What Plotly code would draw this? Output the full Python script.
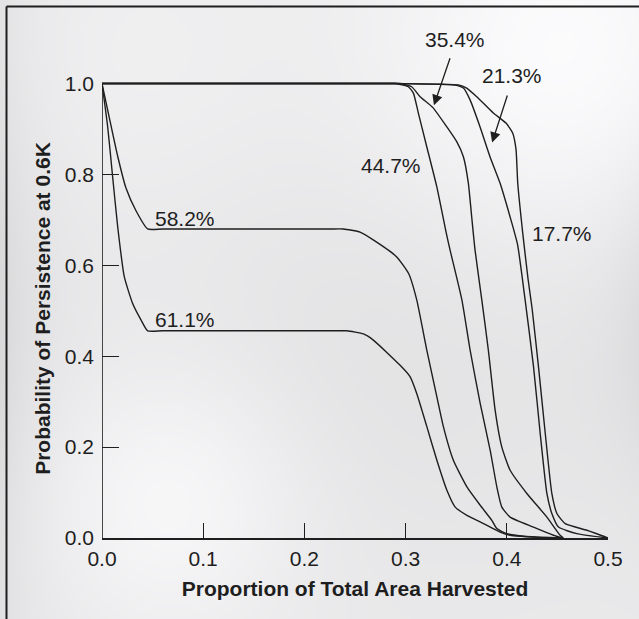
import base64
import struct
import zlib

import numpy as np
import plotly.graph_objects as go

# ---------------- data ----------------
x_582 = [0.0, 0.0072, 0.0155, 0.0237, 0.0336, 0.0451, 0.0600, 0.2250, 0.2385, 0.2550,
         0.2680, 0.2910, 0.3030, 0.3110, 0.3210, 0.3309, 0.3374, 0.3472, 0.3606, 0.3737,
         0.3852, 0.3902, 0.4000, 0.4264, 0.4550]
y_582 = [1.0, 0.925, 0.840, 0.770, 0.720, 0.680, 0.680, 0.680, 0.680, 0.673,
         0.656, 0.619, 0.582, 0.524, 0.413, 0.3106, 0.2445, 0.171, 0.1123, 0.072,
         0.039, 0.0207, 0.0097, 0.002, 0.0]

x_611 = [0.0, 0.0056, 0.0105, 0.0155, 0.0220, 0.0303, 0.0385, 0.0451, 0.0600, 0.2280,
         0.2418, 0.2583, 0.2681, 0.2946, 0.3044, 0.3110, 0.3210, 0.3309, 0.3408, 0.3490,
         0.3606, 0.3770, 0.3934, 0.4033, 0.4527]
y_611 = [1.0, 0.905, 0.795, 0.685, 0.575, 0.516, 0.480, 0.456, 0.456, 0.456,
         0.456, 0.449, 0.4355, 0.380, 0.355, 0.318, 0.245, 0.171, 0.105, 0.068,
         0.050, 0.0317, 0.013, 0.006, 0.0]

x_447 = [0.0, 0.2800, 0.2896, 0.3027, 0.3077, 0.3126, 0.3209, 0.3308, 0.3401, 0.3439,
         0.3556, 0.3638, 0.3737, 0.3836, 0.3902, 0.3951, 0.4033, 0.4264, 0.4462, 0.4545]
y_447 = [1.0, 1.0, 1.0, 0.993, 0.979, 0.935, 0.861, 0.773, 0.672, 0.634,
         0.524, 0.413, 0.296, 0.193, 0.112, 0.068, 0.046, 0.024, 0.006, 0.0]

x_354 = [0.0, 0.2850, 0.2945, 0.3060, 0.3143, 0.3270, 0.3406, 0.3505, 0.3571, 0.3620,
         0.3653, 0.3686, 0.3753, 0.3818, 0.3885, 0.3951, 0.4033, 0.4198, 0.4396, 0.4527,
         0.4560]
y_354 = [1.0, 1.0, 1.0, 0.993, 0.971, 0.947, 0.905, 0.872, 0.839, 0.781,
         0.707, 0.634, 0.524, 0.413, 0.281, 0.200, 0.149, 0.098, 0.046, 0.006,
         0.0]

x_213 = [0.0, 0.2900, 0.3505, 0.3571, 0.3637, 0.3735, 0.3834, 0.3933, 0.4032, 0.4106,
         0.4181, 0.4264, 0.4330, 0.4396, 0.4445, 0.4511, 0.4692, 0.5000]
y_213 = [1.0, 1.0, 0.996, 0.990, 0.964, 0.905, 0.839, 0.781, 0.707, 0.646,
         0.524, 0.377, 0.230, 0.098, 0.054, 0.024, 0.0097, 0.0]

x_177 = [0.0, 0.2900, 0.3520, 0.3604, 0.3703, 0.3867, 0.3992, 0.4058, 0.4091, 0.4108,
         0.4157, 0.4210, 0.4250, 0.4313, 0.4380, 0.4445, 0.4495, 0.4577, 0.4792, 0.5000]
y_177 = [1.0, 1.0, 0.997, 0.990, 0.971, 0.935, 0.913, 0.891, 0.855, 0.781,
         0.672, 0.570, 0.505, 0.377, 0.230, 0.098, 0.054, 0.0317, 0.017, 0.0]

series_x = [x_582, x_611, x_447, x_354, x_213, x_177]
series_y = [y_582, y_611, y_447, y_354, y_213, y_177]

label_text = ["58.2%", "61.1%", "44.7%", "35.4%", "21.3%", "17.7%"]
label_x = [0.082, 0.082, 0.286, 0.349, 0.405, 0.455]
label_y = [0.704, 0.481, 0.819, 1.098, 1.018, 0.670]

arrow_tail_x = [0.3444, 0.4010]
arrow_tail_y = [1.059, 0.977]
arrow_head_x = [0.3280, 0.3855]
arrow_head_y = [0.952, 0.870]

x_ticks = [0.0, 0.1, 0.2, 0.3, 0.4, 0.5]
y_ticks = [0.0, 0.2, 0.4, 0.6, 0.8, 1.0]

x_title = "Proportion of Total Area Harvested"
y_title = "Probability of Persistence at 0.6K"

# ---------------- layout geometry ----------------
W, H = 639, 619
L, R, T, B = 102, 31, 79, 81
PW, PH = W - L - R, H - T - B
X_RANGE = [0, 0.5]
Y_RANGE = [0, 1.01]
INK = "#1e1e1e"
FONT = "Liberation Sans, Arial, Helvetica, sans-serif"


# ---------------- background gradient image ----------------
def png_uri(arr):
    h, w, _ = arr.shape
    raw = b"".join(b"\x00" + arr[i].tobytes() for i in range(h))

    def chunk(tag, data):
        c = struct.pack(">I", len(data)) + tag + data
        return c + struct.pack(">I", zlib.crc32(tag + data) & 0xFFFFFFFF)

    png = (b"\x89PNG\r\n\x1a\n"
           + chunk(b"IHDR", struct.pack(">IIBBBBB", w, h, 8, 2, 0, 0, 0))
           + chunk(b"IDAT", zlib.compress(raw, 9))
           + chunk(b"IEND", b""))
    return "data:image/png;base64," + base64.b64encode(png).decode()


yy, xx = np.mgrid[0:H, 0:W].astype(float)
g = np.full((H, W), 234.0)
g += 18 * np.exp(-((xx - 560) ** 2 + (yy - 60) ** 2) / (2 * 140 ** 2))
g += 14 * np.exp(-((xx - 170) ** 2 + (yy - 500) ** 2) / (2 * 95 ** 2))
g += 6 * np.exp(-((xx - 120) ** 2 + (yy - 60) ** 2) / (2 * 120 ** 2))
g -= 18 * np.exp(-xx / 45) * (0.5 + 0.5 * np.exp(-((yy - 330) / 220) ** 2))
g -= 14 * np.exp(-(W - xx) / 45) * np.exp(-((yy - 320) / 170) ** 2)
g -= 7 * np.exp(-((xx - 400) ** 2 + (yy - 340) ** 2) / (2 * 150 ** 2))
g = np.clip(g, 0, 255)
rgb = np.stack([g, g, g + 1.5], axis=-1).clip(0, 255).astype(np.uint8)
bg_uri = png_uri(rgb)


def data_to_paper_x(v):
    return (v - X_RANGE[0]) / (X_RANGE[1] - X_RANGE[0])


def data_to_paper_y(v):
    return (v - Y_RANGE[0]) / (Y_RANGE[1] - Y_RANGE[0])


def px_to_paper_x(px):
    return (px - L) / PW


def py_to_paper_y(py):
    return 1 - (py - T) / PH


# ---------------- figure ----------------
fig = go.Figure()
for xs, ys in zip(series_x, series_y):
    fig.add_trace(go.Scatter(
        x=xs, y=ys, mode="lines",
        line=dict(color=INK, width=1.4, shape="spline", smoothing=0.5),
        showlegend=False, hoverinfo="skip",
    ))

annotations = []
for t, lx, ly in zip(label_text, label_x, label_y):
    annotations.append(dict(x=data_to_paper_x(lx), y=data_to_paper_y(ly),
                            xref="paper", yref="paper", text=t, showarrow=False,
                            font=dict(family=FONT, size=21, color=INK),
                            xanchor="center", yanchor="middle"))
for tx, ty, hx, hy in zip(arrow_tail_x, arrow_tail_y, arrow_head_x, arrow_head_y):
    annotations.append(dict(x=hx, y=hy, ax=tx, ay=ty,
                            xref="x", yref="y", axref="x", ayref="y",
                            text="", showarrow=True,
                            arrowhead=2, arrowsize=1.6, arrowwidth=1.3,
                            arrowcolor=INK, standoff=0, startstandoff=0))

shapes = [
    # y axis line from 0 to 1
    dict(type="line", xref="x", yref="y", x0=0, x1=0, y0=0, y1=1,
         line=dict(color=INK, width=1.6), layer="above"),
    # outer frame (top and left edges)
    dict(type="line", xref="paper", yref="paper",
         x0=px_to_paper_x(6.5), x1=px_to_paper_x(6.5),
         y0=py_to_paper_y(H + 5), y1=py_to_paper_y(6.5),
         line=dict(color=INK, width=2)),
    dict(type="line", xref="paper", yref="paper",
         x0=px_to_paper_x(6.5), x1=px_to_paper_x(W + 5),
         y0=py_to_paper_y(6.5), y1=py_to_paper_y(6.5),
         line=dict(color=INK, width=2)),
]

fig.update_layout(
    width=W, height=H,
    margin=dict(l=L, r=R, t=T, b=B, pad=0),
    paper_bgcolor="#e9e9ea",
    plot_bgcolor="rgba(0,0,0,0)",
    font=dict(family=FONT, size=21, color=INK),
    showlegend=False,
    annotations=annotations,
    shapes=shapes,
    images=[dict(source=bg_uri, xref="paper", yref="paper",
                 x=px_to_paper_x(0), y=py_to_paper_y(0),
                 sizex=W / PW, sizey=H / PH, sizing="stretch",
                 xanchor="left", yanchor="top", layer="below")],
    xaxis=dict(range=X_RANGE, tickvals=x_ticks, tickformat=".1f",
               ticks="inside", ticklen=15, tickwidth=1.4, tickcolor=INK,
               showline=True, linecolor=INK, linewidth=1.6,
               showgrid=False, zeroline=False, fixedrange=True,
               ticklabelstandoff=1,
               tickfont=dict(family=FONT, size=21, color=INK),
               title=dict(text="<b>" + x_title + "</b>", standoff=12,
                          font=dict(family=FONT, size=21, color=INK))),
    yaxis=dict(range=Y_RANGE, tickvals=y_ticks, tickformat=".1f",
               ticks="inside", ticklen=17, tickwidth=1.4, tickcolor=INK,
               showline=False, showgrid=False, zeroline=False, fixedrange=True,
               ticklabelstandoff=7,
               tickfont=dict(family=FONT, size=21, color=INK),
               title=dict(text="<b>" + y_title + "</b>", standoff=8,
                          font=dict(family=FONT, size=21, color=INK))),
)

fig.write_html("out.html", config={"displayModeBar": False})
